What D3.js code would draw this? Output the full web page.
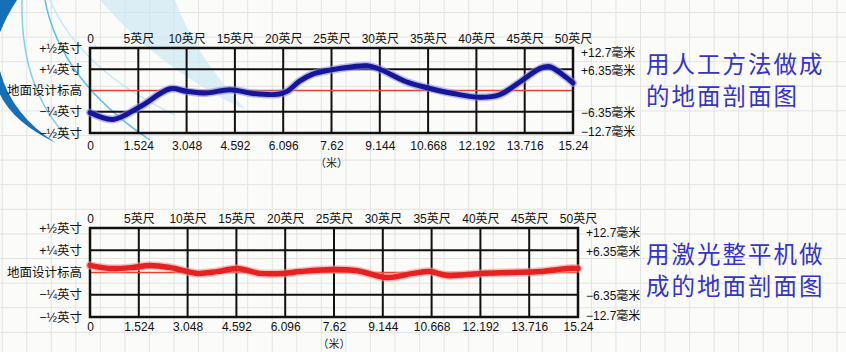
<!DOCTYPE html>
<html><head><meta charset="utf-8">
<script src="https://cdn.jsdelivr.net/npm/d3@7"></script>
<style>
html,body{margin:0;padding:0;background:#fbfbf9;}
svg{display:block;}
text{font-family:"Liberation Sans","Noto Sans CJK SC",sans-serif;}
</style></head>
<body>
<script>
// ---- data ----
const feetTicks = [0,5,10,15,20,25,30,35,40,45,50];
const feetLabels = ["0","5英尺","10英尺","15英尺","20英尺","25英尺","30英尺","35英尺","40英尺","45英尺","50英尺"];
const meterLabels = ["0","1.524","3.048","4.592","6.096","7.62","9.144","10.668","12.192","13.716","15.24"];
const meterUnit = "（米）";
const inchTicks = [0.5,0.25,0,-0.25,-0.5];
const inchLabels = ["+½英寸","+¼英寸","地面设计标高","−¼英寸","−½英寸"];
const mmTicks = [0.5,0.25,-0.25,-0.5];
const mmLabels = ["+12.7毫米","+6.35毫米","−6.35毫米","−12.7毫米"];
const manualTitle = ["用人工方法做成","的地面剖面图"];
const laserTitle = ["用激光整平机做","成的地面剖面图"];
// manual profile: feet vs inches
const manualFeet = [0,2.4,5.2,8.3,10,12,14.5,16.9,19.4,20.4,21.7,23,24.8,27.2,28.7,30,32.8,35,37.6,40.4,42.4,44.5,46.6,47.6,49,50];
const manualInch = [-0.26,-0.34,-0.19,0.02,-0.01,-0.03,0.01,-0.035,-0.045,-0.01,0.11,0.19,0.24,0.28,0.29,0.25,0.10,0.03,-0.035,-0.08,-0.05,0.10,0.26,0.28,0.18,0.09];
// laser profile
const laserFeet = [0,2.05,4.4,6.1,8.2,11,13,15.1,17.4,19.8,21.5,24.9,27.4,30.4,33.1,34.8,36.6,40,43.3,46.1,48.9,50];
const laserInch = [0.08,0.045,0.057,0.08,0.057,-0.01,0.01,0.045,-0.01,-0.01,0.01,0.034,0.02,-0.057,-0.01,0.01,-0.034,-0.01,0,0.01,0.045,0.045];

const W=846,H=352;
const svg=d3.select("body").append("svg").attr("width",W).attr("height",H);

// background paper grid
svg.append("rect").attr("width",W).attr("height",H).attr("fill","#fbfbf9");
const bg=svg.append("g").attr("stroke","#e3e3e0").attr("stroke-width",1);
for(let x=2.2;x<W;x+=24.55) bg.append("line").attr("x1",x).attr("x2",x).attr("y1",0).attr("y2",H);
for(let y=12.5;y<H;y+=24.6) bg.append("line").attr("y1",y).attr("y2",y).attr("x1",0).attr("x2",W);

// decorative swoosh
const deco=svg.append("g");
deco.append("path").attr("d","M100,0 L175,0 Q195,55 246,110 Q160,70 100,0Z").attr("fill","#cfe8f3").attr("opacity",0.7);
deco.append("path").attr("d","M17,0 Q-45,95 56,143 Q-20,95 0,0Z").attr("fill","#1670b8");
deco.append("path").attr("d","M22,0 Q20,90 70,140").attr("fill","none").attr("stroke","#7fcff0").attr("stroke-width",1.5);
deco.append("path").attr("d","M45,0 Q60,80 150,140").attr("fill","none").attr("stroke","#5cc0ee").attr("stroke-width",1.5);
deco.append("path").attr("d","M50,0 Q80,70 175,115").attr("fill","none").attr("stroke","#bfe6f7").attr("stroke-width",1.2);

function panel(cfg){
  const x=d3.scaleLinear().domain([0,50]).range([cfg.x0,cfg.x1]);
  const y=d3.scaleLinear().domain([-0.5,0.5]).range([cfg.yb,cfg.yt]);
  const g=svg.append("g");
  // horizontal grid
  [0.25,-0.25].forEach(v=>g.append("line").attr("x1",cfg.x0).attr("x2",cfg.x1).attr("y1",y(v)).attr("y2",y(v)).attr("stroke","#111").attr("stroke-width",2));
  // vertical grid
  feetTicks.slice(1,-1).forEach(f=>g.append("line").attr("x1",x(f)).attr("x2",x(f)).attr("y1",cfg.yt).attr("y2",cfg.yb).attr("stroke","#111").attr("stroke-width",2));
  // design level line
  g.append("line").attr("x1",cfg.x0).attr("x2",cfg.x1).attr("y1",y(0)).attr("y2",y(0)).attr("stroke","#e8412c").attr("stroke-width",1.5);
  // frame
  g.append("rect").attr("x",cfg.x0).attr("y",cfg.yt).attr("width",cfg.x1-cfg.x0).attr("height",cfg.yb-cfg.yt).attr("fill","none").attr("stroke","#111").attr("stroke-width",2.5);
  // curve
  const line=d3.line().x(d=>x(d[0])).y(d=>y(d[1])).curve(d3.curveCatmullRom.alpha(0.5));
  const pts=cfg.fx.map((f,i)=>[f,cfg.fy[i]]);
  g.append("path").attr("d",line(pts)).attr("fill","none").attr("stroke",cfg.glow).attr("stroke-width",cfg.lw+3).attr("stroke-linecap","round").attr("opacity",0.6);
  g.append("path").attr("d",line(pts)).attr("fill","none").attr("stroke",cfg.color).attr("stroke-width",cfg.lw).attr("stroke-linecap","round");
  // top axis labels
  const ta=d3.axisTop(x).tickValues(feetTicks).tickFormat((d,i)=>feetLabels[i]).tickSize(0).tickPadding(0);
  const tg=g.append("g").attr("transform",`translate(0,${cfg.topLabelY})`).call(ta);
  tg.select(".domain").remove();
  tg.selectAll("text").attr("font-size",12).attr("fill","#111").attr("dy","0.35em").attr("y",0);
  // bottom axis labels
  const ba=d3.axisBottom(x).tickValues(feetTicks).tickFormat((d,i)=>meterLabels[i]).tickSize(0).tickPadding(0);
  const bgx=g.append("g").attr("transform",`translate(0,${cfg.botLabelY})`).call(ba);
  bgx.select(".domain").remove();
  bgx.selectAll("text").attr("font-size",12).attr("fill","#111").attr("dy","0.35em").attr("y",0);
  g.append("text").attr("x",x(25)).attr("y",cfg.botLabelY+17).attr("dy","0.35em").attr("text-anchor","middle").attr("font-size",11).attr("fill","#222").text(meterUnit);
  // left labels
  const la=d3.axisLeft(y).tickValues(inchTicks).tickFormat((d,i)=>inchLabels[i]).tickSize(0).tickPadding(0);
  const lg=g.append("g").attr("transform",`translate(${cfg.x0-8},0)`).call(la);
  lg.select(".domain").remove();
  lg.selectAll("text").attr("font-size",12.5).attr("fill","#111").attr("x",0);
  // right labels
  const rOff=[5,2,1,-1];
  mmTicks.forEach((v,i)=>g.append("text").attr("x",cfg.x1+8).attr("y",y(v)+rOff[i]).attr("dy","0.35em").attr("font-size",12).attr("fill","#111").text(mmLabels[i]));
  // title
  cfg.title.forEach((t,i)=>g.append("text").attr("x",646).attr("y",cfg.titleY+i*32).attr("dy","0.35em").attr("font-family","'Noto Sans CJK SC',sans-serif").attr("font-size",23.5).attr("letter-spacing",2).attr("fill","#3434c8").text(t));
}

panel({x0:90,x1:573,yt:48,yb:133,topLabelY:39,botLabelY:146,fx:manualFeet,fy:manualInch,color:"#16169a",glow:"#8f8fe0",lw:5,title:manualTitle,titleY:65});
panel({x0:90,x1:578,yt:228,yb:317,topLabelY:219,botLabelY:327,fx:laserFeet,fy:laserInch,color:"#e42222",glow:"#f39a9a",lw:5.5,title:laserTitle,titleY:255});
</script>
</body></html>
